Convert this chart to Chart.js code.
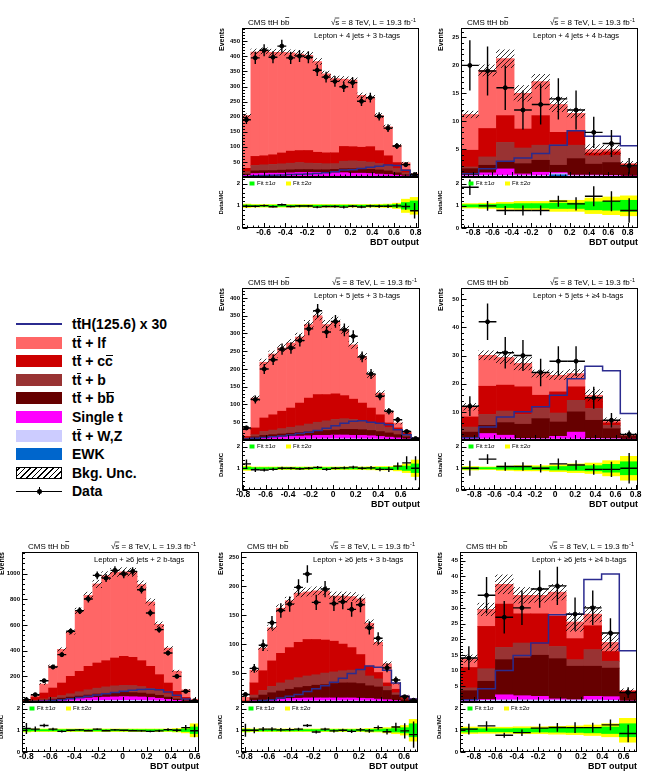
<!DOCTYPE html>
<html>
<head>
<meta charset="utf-8">
<title>ttH bb BDT output</title>
<script src="https://cdn.jsdelivr.net/npm/chart.js@4.4.1/dist/chart.umd.min.js"></script>
<style>
  body { margin: 0; width: 646px; height: 773px; position: relative; overflow: hidden; background: #fff;
         font-family: "Liberation Sans", Arial, sans-serif; }
  canvas { position: absolute; }
  .leg { position: absolute; left: 0; width: 220px; height: 18px; }
  .sw { position: absolute; left: 16px; top: 3px; width: 46px; height: 12px; }
  .lt { position: absolute; left: 72px; top: 0; font-weight: bold; font-size: 14px; line-height: 18px; color: #000; white-space: nowrap; }
  .ov { position: relative; }
  .ov::after { content: ''; position: absolute; left: 0.5px; right: 0; top: 1.5px; border-top: 1.5px solid #000; }
</style>
</head>
<body>
<div id="legend"></div>
<script>
// background components, bottom to top of the stack
const stackNames = ['EWK', 'tt\u0304 + W,Z', 'Single t', 'tt\u0304 + bb\u0304', 'tt\u0304 + b', 'tt\u0304 + cc\u0304', 'tt\u0304 + lf'];
const stackColors = ['#0066cc', '#ccccff', '#ff00ff', '#660000', '#993333', '#cc0000', '#ff6666'];
const sigColor = '#2b2b8f';

// ---- lepton + 4 jets + 3 b-tags
const range43 = [-0.799, 0.831];
const data43 = [190,395,420,397,434,395,401,397,354,331,317,299,313,251,263,201,162,103,41,8];
const err43 = [14,20,20,20,21,20,20,20,19,18,18,17,18,16,16,14,13,10,6,3];
const ewk43 = [0.2,0.4,0.4,0.5,0.5,0.5,0.5,0.5,0.5,0.5,0.6,0.6,0.6,0.6,0.6,0.5,0.5,0.4,0.2,0.1];
const ttv43 = [0.5,1,1,1.2,1.2,1.3,1.4,1.5,1.5,1.6,1.7,1.8,1.9,2,2,2,1.8,1.5,1,0.3];
const st43 = [5,10,11,11,11,12,13,13,13,12,12,12,10,10,9,7,6,4,2,0.1];
const bb43 = [4,9,9,9,10,10,10,10,9,10,11,13,15,14,14,14,12,8,4,0.5];
const b43 = [8,18,19,20,21,22,23,21,21,20,19,25,26,25,24,21,18,14,7,1];
const cc43 = [11,30,30,32,36,40,40,42,37,36,36,49,47,47,51,43,32,20,10,1];
const lf43 = [175,346,348,340,334,326,320,315,301,262,246,223,221,172,164,116,96,57,23,8];
const tth43 = [2,4,5,6,7,8,9,10,12,14,17,23,24,28,32,36,40,38,22,6];
const unc43 = [6,10,10,10,10,10,10,10,10,9,9,9,9,8,8,7,6,4,2,1];
const ratio43 = [0.98,0.98,1.01,0.96,1.05,0.97,0.99,0.99,0.94,0.97,0.97,0.94,0.98,0.95,0.99,0.98,0.98,1.0,0.97,0.78];
const rerr43 = [0.07,0.05,0.05,0.05,0.05,0.05,0.05,0.05,0.05,0.05,0.06,0.06,0.06,0.06,0.06,0.07,0.08,0.1,0.15,0.35];
const fit1_43 = [0.04,0.03,0.03,0.03,0.03,0.03,0.03,0.03,0.03,0.03,0.03,0.03,0.03,0.03,0.03,0.03,0.04,0.06,0.15,0.22];
const fit2_43 = [0.08,0.06,0.06,0.06,0.06,0.06,0.06,0.06,0.06,0.06,0.06,0.06,0.06,0.06,0.06,0.07,0.08,0.12,0.3,0.38];

// ---- lepton + 4 jets + 4 b-tags
const range44 = [-0.926, 0.908];
const data44 = [20,19,16,12,13,14,12,8,6,2];
const err44 = [4.5,4.4,4,3.5,3.6,3.7,3.5,2.8,2.4,1.4];
const ewk44 = [0.05,0.05,0.05,0.05,0.05,0.4,0.05,0.05,0.05,0.02];
const ttv44 = [0.15,0.2,0.2,0.2,0.2,0.2,0.2,0.2,0.15,0.1];
const st44 = [0.1,0.5,1.2,0.3,0.6,0.2,0.1,0.1,0.1,0.05];
const bb44 = [1.2,1.35,1.35,1.85,2.15,1.3,2.95,1.95,2.3,1.63];
const b44 = [0.3,1.5,3.4,2.8,2.7,3.7,2.4,1.5,1.3,0.3];
const cc44 = [3.0,5.1,4.8,3.4,5.3,2.2,2.5,0.5,0.6,0.1];
const lf44 = [6.4,10.4,10.2,6.4,6.1,5.0,3.2,0.6,0.4,0.2];
const tth44 = [0.6,1.5,2.8,3.4,4.2,5.7,8.3,7.3,7.3,5.6];
const unc44 = [0.6,1.0,1.6,1.4,1.3,1.3,0.8,0.9,0.8,0.4];
const ratio44 = [1.84,1.0,0.79,0.79,0.79,1.21,1.09,1.43,1.21,0.79];
const rerr44 = [0.35,0.22,0.2,0.23,0.22,0.25,0.3,0.45,0.45,0.55];
const fit1_44 = [0.05,0.06,0.08,0.1,0.1,0.12,0.12,0.18,0.2,0.25];
const fit2_44 = [0.1,0.12,0.16,0.2,0.2,0.25,0.25,0.35,0.4,0.45];

// ---- lepton + 5 jets + 3 b-tags
const range53 = [-0.809, 0.772];
const data53 = [34,114,200,226,256,259,280,313,364,304,334,310,292,234,186,123,81,57,24,4];
const err53 = [6,11,14,15,16,16,17,18,19,17,18,18,17,15,14,11,9,8,5,2];
const ewk53 = [0.1,0.3,0.4,0.4,0.5,0.5,0.5,0.5,0.5,0.5,0.5,0.5,0.5,0.5,0.5,0.4,0.4,0.3,0.2,0.05];
const ttv53 = [0.5,1,1.2,1.4,1.6,1.8,2,2.2,2.4,2.6,2.8,2.8,2.8,2.6,2.4,2.2,1.8,1.4,0.8,0.2];
const st53 = [1.4,3.7,5.4,6.2,6.9,7.7,8.5,9.3,10.1,9.9,10.7,10.7,9.7,9.9,9.1,7.4,5.8,4.3,2,0.8];
const bb53 = [2,4,6,7,8,9,10,11,12,14,14,16,17,16,15,14,12,9,6,1];
const b53 = [2,6,11,13,15,17,19,22,25,27,30,30,28,26,23,20,15,11,6,2];
const cc53 = [4,19,38,43,49,54,64,73,78,74,72,65,57,49,40,27,13,8,5,1];
const lf53 = [24,84,157,171,178,183,186,207,222,197,204,186,153,131,94,61,33,14,4,1];
const tth53 = [3,5,7,9,11,14,18,22,27,33,40,47,53,54,50,47,43,29,15,5];
const unc53 = [3,6,9,9,10,10,11,12,12,12,12,11,10,9,8,7,5,3,2,1];
const ratio53 = [1.2,0.93,0.92,0.95,1.0,1.0,0.98,1.0,1.04,0.95,1.0,1.02,1.05,1.0,1.02,0.95,0.95,1.1,1.25,1.0];
const rerr53 = [0.2,0.1,0.07,0.07,0.07,0.06,0.06,0.06,0.06,0.06,0.06,0.06,0.07,0.07,0.08,0.09,0.12,0.17,0.3,0.55];
const fit1_53 = [0.05,0.03,0.03,0.03,0.03,0.03,0.03,0.03,0.03,0.03,0.03,0.03,0.03,0.03,0.03,0.04,0.04,0.06,0.1,0.2];
const fit2_53 = [0.1,0.06,0.06,0.06,0.06,0.06,0.06,0.06,0.06,0.06,0.06,0.06,0.06,0.06,0.07,0.08,0.08,0.12,0.2,0.38];

// ---- lepton + 5 jets + >=4 b-tags
const range54 = [-0.932, 0.823];
const data54 = [12,42,31,30,24,28,28,15,7,2];
const err54 = [3.5,6.5,5.6,5.5,4.9,5.3,5.3,3.9,2.6,1.4];
const ewk54 = [0.05,0.05,0.05,0.05,0.05,0.05,0.05,0.05,0.05,0.05];
const ttv54 = [0.3,0.3,0.3,0.3,0.3,0.3,0.3,0.3,0.3,0.15];
const st54 = [0.25,1.95,1.35,0.25,0.15,0.95,2.45,0.25,0.15,0.1];
const bb54 = [2.2,2.9,4.5,5.0,7.1,5.1,7.2,6.4,3.5,1.0];
const b54 = [1.8,3.9,4.1,3.5,3.6,3.2,4.1,4.2,1.2,0.4];
const cc54 = [3.6,10.0,9.2,9.8,4.7,7.5,4.8,3.5,0.9,0.1];
const lf54 = [3.6,11.0,9.8,8.3,7.7,5.9,4.7,1.2,0.9,0.2];
const tth54 = [0.8,4.6,8.2,10.0,11.8,15.9,21.8,26.2,24.6,9.4];
const unc54 = [1.2,1.6,2.2,2.3,1.3,1.5,1.5,2.0,0.9,0.4];
const ratio54 = [1.0,1.42,1.08,1.08,1.0,1.2,1.15,0.95,0.95,1.0];
const rerr54 = [0.35,0.22,0.2,0.2,0.2,0.25,0.22,0.25,0.35,0.7];
const fit1_54 = [0.04,0.03,0.05,0.06,0.06,0.08,0.1,0.12,0.18,0.3];
const fit2_54 = [0.08,0.06,0.1,0.12,0.12,0.16,0.2,0.24,0.35,0.55];

// ---- lepton + >=6 jets + 2 b-tags
const range62 = [-0.836, 0.636];
const data62 = [18,57,166,273,369,551,712,803,987,966,1026,997,1018,875,694,564,382,200,83,10];
const err62 = [4,8,13,17,19,23,27,28,31,31,32,32,32,30,26,24,20,14,9,3];
const ewk62 = [0.1,0.4,0.8,1.2,1.6,2,2.3,2.6,2.8,3,3,3,3,2.8,2.5,2,1.5,1,0.5,0.1];
const ttv62 = [0.3,1,2,3,4,5,6,7,8,8.5,9,9.5,9.5,9,8,7,5,3,1.5,0.4];
const st62 = [1.6,3.6,7.2,9.8,12.4,15,18.7,21.4,24.2,26.5,28,29.5,28.5,27.2,24.5,20,14.5,9,4,1];
const bb62 = [1,3,5,8,12,16,19,23,27,30,32,33,33,31,27,23,17,10,4,0.5];
const b62 = [1,4,9,14,20,26,34,41,46,50,54,55,54,50,44,36,26,15,6,2];
const cc62 = [6,24,46,73,98,136,159,183,196,204,217,226,220,202,172,125,84,45,20,6];
const lf62 = [10,14,70,171,262,345,471,552,616,663,667,659,662,593,502,392,272,157,59,12];
const tth62 = [1,3,6,11,17,25,35,45,55,65,75,84,92,98,100,95,78,52,24,5];
const unc62 = [1,2,5,9,13,17,22,26,29,31,32,32,32,29,25,19,14,8,3,1];
const ratio62 = [1.08,1.05,1.22,1.05,0.95,1.0,1.02,0.98,1.05,0.98,1.02,1.0,0.98,0.97,0.95,0.97,1.03,1.0,1.12,0.98];
const rerr62 = [0.25,0.12,0.08,0.06,0.05,0.04,0.04,0.04,0.04,0.04,0.04,0.04,0.04,0.04,0.04,0.05,0.06,0.08,0.12,0.3];
const fit1_62 = [0.04,0.03,0.03,0.03,0.03,0.03,0.03,0.03,0.03,0.03,0.03,0.03,0.03,0.03,0.03,0.03,0.03,0.04,0.06,0.15];
const fit2_62 = [0.08,0.06,0.06,0.06,0.06,0.06,0.06,0.06,0.06,0.06,0.06,0.06,0.06,0.06,0.06,0.06,0.06,0.08,0.12,0.3];

// ---- lepton + >=6 jets + 3 b-tags
const range63 = [-0.838, 0.723];
const data63 = [13,58,98,137,158,169,198,221,172,195,170,173,160,168,128,110,59,38,9,3];
const err63 = [3.6,7.6,9.9,11.7,12.6,13,14,15,13,14,13,13,12.6,13,11.3,10.5,7.7,6.2,3,1.7];
const ewk63 = [0.05,0.1,0.15,0.2,0.2,0.2,0.2,0.2,0.2,0.2,0.2,0.2,0.2,0.2,0.2,0.2,0.1,0.1,0.05,0.02];
const ttv63 = [0.1,0.5,0.8,1,1.2,1.4,1.5,1.6,1.7,1.8,1.8,1.8,1.8,1.7,1.6,1.4,1.1,0.7,0.3,0.1];
const st63 = [0.15,1.4,2.05,2.8,3.6,4.4,4.8,5.2,5.1,5.0,5.0,5.0,5.0,4.6,4.2,3.4,2.8,1.7,0.65,0.18];
const bb63 = [0.2,5,9,12,14,16,18.5,20,22,23,25,26,26,25.5,22,21,16,9.5,3,1.2];
const b63 = [0.5,5,8,11,14,16,17,18,18,20,20,21,22,23,17,14,7,4,1,0.5];
const cc63 = [1,21,34,44,51,56,61,63,61,57,53,46,39,27,17,11,6,6,2,2];
const lf63 = [6,22,39,57,78,81,85,82,84,85,78,83,88,96,74,52,33,11,4,2];
const tth63 = [0.5,1,2.5,4,7,10,13,18,23,28,34,41,49,56,62,60,55,33,10,5];
const unc63 = [0.5,3,4,5,6,6,6.5,7,7,7,7,7,7,7,6,5,3.5,2,0.8,0.4];
const ratio63 = [1.0,1.0,1.05,1.05,1.02,1.03,1.05,1.22,0.92,1.05,0.97,1.0,0.95,1.02,0.97,1.12,0.93,1.15,0.97,0.8];
const rerr63 = [0.3,0.14,0.1,0.09,0.08,0.08,0.07,0.07,0.07,0.07,0.07,0.07,0.08,0.08,0.09,0.1,0.13,0.2,0.35,0.6];
const fit1_63 = [0.04,0.03,0.03,0.03,0.03,0.03,0.03,0.03,0.03,0.03,0.03,0.03,0.03,0.03,0.04,0.04,0.06,0.08,0.12,0.3];
const fit2_63 = [0.08,0.06,0.06,0.06,0.06,0.06,0.06,0.06,0.06,0.06,0.06,0.06,0.06,0.06,0.08,0.08,0.12,0.16,0.22,0.5];

// ---- lepton + >=6 jets + >=4 b-tags
const range64 = [-0.931, 0.725];
const data64 = [14,34,27,30,36,37,28,30,22,3];
const err64 = [3.8,5.8,5.2,5.5,6,6.1,5.3,5.5,4.7,1.7];
const ewk64 = [0.05,0.05,0.05,0.05,0.05,0.05,0.05,0.05,0.05,0.05];
const ttv64 = [0.3,0.5,0.6,0.6,0.6,0.6,0.6,0.6,0.5,0.2];
const st64 = [0.15,0.25,1.65,1.35,1.15,0.35,0.05,1.15,1.15,0.05];
const bb64 = [3.1,5.8,11.2,12.0,13.1,12.8,10.7,9.6,9.1,2.6];
const b64 = [0.9,4.0,3.9,4.8,3.4,3.9,2.1,5.3,2.2,0.3];
const cc64 = [6.5,13.5,13.8,9.3,9.8,9.6,6.7,7.6,3.1,0.2];
const lf64 = [2.8,5.4,6.3,5.9,5.9,7.7,5.3,3.7,2.9,0.3];
const tth64 = [0.7,4.2,10.0,14.8,18.8,27.8,28.0,39.0,40.8,16.3];
const unc64 = [1.2,2.0,3.0,2.5,2.2,2.5,3.0,2.5,2.8,0.5];
const ratio64 = [1.05,1.2,0.77,0.89,1.1,1.13,1.12,1.12,1.25,0.85];
const rerr64 = [0.25,0.22,0.12,0.15,0.2,0.2,0.25,0.22,0.25,0.4];
const fit1_64 = [0.08,0.07,0.07,0.08,0.08,0.09,0.1,0.12,0.15,0.3];
const fit2_64 = [0.15,0.14,0.14,0.16,0.16,0.18,0.2,0.24,0.3,0.55];

// ratio axis labels
const ratioTicks = [0, 1, 2];

Chart.defaults.font.family = '"Liberation Sans", Arial, sans-serif';
Chart.defaults.color = '#000';

const FONT = '"Liberation Sans", Arial, sans-serif';

// diagonal hatching for the background uncertainty
function hatch(ctx) {
  const c = document.createElement('canvas');
  c.width = 5; c.height = 5;
  const g = c.getContext('2d');
  g.strokeStyle = '#000';
  g.lineWidth = 0.8;
  g.beginPath();
  g.moveTo(0, 5); g.lineTo(5, 0);
  g.moveTo(-1, 1); g.lineTo(1, -1);
  g.moveTo(4, 6); g.lineTo(6, 4);
  g.stroke();
  return ctx.createPattern(c, 'repeat');
}

// frame, inward ticks, error bars and the texts round each panel
const deco = {
  id: 'deco',
  afterDatasetsDraw(chart, args, opts) {
    const ctx = chart.ctx, ca = chart.chartArea;
    const x = chart.scales.x, y = chart.scales.y, r = chart.scales.r;
    ctx.save();

    // error bars of data points
    chart.data.datasets.forEach(ds => {
      if (!ds.errY) return;
      const ys = chart.scales[ds.yAxisID];
      ctx.save();
      ctx.beginPath();
      ctx.rect(ca.left, ys.top, ca.right - ca.left, ys.bottom - ys.top);
      ctx.clip();
      ctx.strokeStyle = '#000';
      ctx.lineWidth = 1.4;
      ds.data.forEach((pt, i) => {
        const px = x.getPixelForValue(pt.x), py = ys.getPixelForValue(pt.y);
        ctx.beginPath();
        ctx.moveTo(x.getPixelForValue(pt.x - ds.halfW), py);
        ctx.lineTo(x.getPixelForValue(pt.x + ds.halfW), py);
        ctx.moveTo(px, ys.getPixelForValue(pt.y - ds.errY[i]));
        ctx.lineTo(px, ys.getPixelForValue(pt.y + ds.errY[i]));
        ctx.stroke();
      });
      ctx.restore();
    });

    // frames
    ctx.strokeStyle = '#000';
    ctx.lineWidth = 1;
    const L = Math.round(ca.left) + 0.5, R = Math.round(ca.right) - 0.5;
    [y, r].forEach(s => ctx.strokeRect(L, Math.round(s.top) + 0.5, R - L, Math.round(s.bottom) - Math.round(s.top) - 1));

    // inward ticks, five minor divisions on y, four on x
    ctx.beginPath();
    [y, r].forEach(s => {
      const vals = s.ticks.map(t => t.value);
      const step = vals[1] - vals[0];
      for (let k = 0; vals[0] + k * step / 5 <= s.max + 1e-9; k++) {
        const py = Math.round(s.getPixelForValue(vals[0] + k * step / 5)) + 0.5;
        ctx.moveTo(L, py);
        ctx.lineTo(L + (k % 5 === 0 ? 5 : 2.5), py);
      }
    });
    const x0v = x.ticks[0].value;
    for (let k = -4; x0v + k * 0.05 <= x.max + 1e-9; k++) {
      const v = x0v + k * 0.05;
      if (v < x.min) continue;
      const px = Math.round(x.getPixelForValue(v)) + 0.5;
      const len = (k % 4 === 0) ? 5 : 2.5;
      [y.bottom, r.bottom].forEach(b => {
        ctx.moveTo(px, b);
        ctx.lineTo(px, b - len);
      });
    }
    ctx.stroke();

    // header texts
    ctx.fillStyle = '#000';
    ctx.textBaseline = 'middle';
    ctx.textAlign = 'left';
    ctx.font = '8px ' + FONT;
    const cms = 'CMS ttH bb';
    ctx.fillText(cms, ca.left + 6, ca.top - 5);
    const wc = ctx.measureText(cms).width, wb = ctx.measureText('b').width;
    ctx.beginPath();
    ctx.lineWidth = 0.7;
    ctx.moveTo(ca.left + 6 + wc - wb + 0.4, ca.top - 10.5);
    ctx.lineTo(ca.left + 6 + wc - 0.2, ca.top - 10.5);
    ctx.stroke();

    ctx.font = '5.5px ' + FONT;
    const wsup = ctx.measureText('-1').width;
    ctx.textAlign = 'right';
    ctx.fillText('-1', ca.right - 3, ca.top - 8);
    ctx.font = '8px ' + FONT;
    const lumi = '\u221as = 8 TeV, L = 19.3 fb';
    const lx = ca.right - 3 - wsup - 0.5;
    ctx.fillText(lumi, lx, ca.top - 5);
    const sx = lx - ctx.measureText(lumi).width + ctx.measureText('\u221a').width - 0.5;
    ctx.beginPath();
    ctx.moveTo(sx, ca.top - 10);
    ctx.lineTo(sx + ctx.measureText('s').width + 0.5, ca.top - 10);
    ctx.stroke();

    ctx.textAlign = 'left';
    ctx.font = '7.6px ' + FONT;
    ctx.fillText(opts.cat, ca.left + 72, ca.top + 7.5);

    // ratio legend
    const ly = r.top + 6.5;
    ctx.font = '6px ' + FONT;
    ctx.fillStyle = '#00ff00';
    ctx.fillRect(ca.left + 7.5, ly - 2, 5, 4);
    ctx.fillStyle = '#000';
    ctx.fillText('Fit \u00b11\u03c3', ca.left + 15, ly);
    ctx.fillStyle = '#ffff00';
    ctx.fillRect(ca.left + 44, ly - 2, 5, 4);
    ctx.fillStyle = '#000';
    ctx.fillText('Fit \u00b12\u03c3', ca.left + 51, ly);
    ctx.restore();
  }
};

function drawPanel(p) {
  const padL = 24, padT = 16, padR = 10, padB = 19;
  const cv = document.createElement('canvas');
  cv.width = p.r - p.l + padL + padR;
  cv.height = p.b - p.t + padT + padB;
  cv.style.left = (p.l - padL) + 'px';
  cv.style.top = (p.t - padT) + 'px';
  document.body.appendChild(cv);
  const ctx = cv.getContext('2d');

  const n = p.data.length;
  const bw = (p.range[1] - p.range[0]) / n;
  const xc = p.data.map((_, i) => p.range[0] + (i + 0.5) * bw);
  const edges = xc.map(v => v - bw / 2).concat([p.range[1]]);
  const total = xc.map((_, i) => p.stack.reduce((s, a) => s + a[i], 0));

  const datasets = [
    { type: 'scatter', label: 'Data', data: xc.map((v, i) => ({x: v, y: p.data[i]})), yAxisID: 'y',
      errY: p.err, halfW: bw / 2, pointRadius: 2, backgroundColor: '#000', borderColor: '#000', order: 0 },
    { type: 'line', label: 'ttH(125.6) x 30', data: edges.map((v, i) => ({x: v, y: p.tth[Math.min(i, n - 1)]})),
      stepped: true, borderColor: sigColor, borderWidth: 1.5, pointRadius: 0, fill: false, yAxisID: 'y', order: 1 },
    { type: 'bar', label: 'Bkg. Unc.', data: xc.map((v, i) => ({x: v, y: [total[i] - p.unc[i], total[i] + p.unc[i]]})),
      backgroundColor: hatch(ctx), stack: 'unc', grouped: false, yAxisID: 'y', order: 2 },
    { type: 'scatter', label: 'Data/MC', data: xc.map((v, i) => ({x: v, y: p.ratio[i]})), yAxisID: 'r',
      errY: p.rerr, halfW: bw / 2, pointRadius: 1.6, backgroundColor: '#000', borderColor: '#000', order: 0 },
    { type: 'bar', label: 'Fit \u00b11\u03c3', data: xc.map((v, i) => ({x: v, y: [1 - p.fit1[i], 1 + p.fit1[i]]})),
      backgroundColor: '#00ff00', grouped: false, yAxisID: 'r', order: 5 },
    { type: 'bar', label: 'Fit \u00b12\u03c3', data: xc.map((v, i) => ({x: v, y: [1 - p.fit2[i], 1 + p.fit2[i]]})),
      backgroundColor: '#ffff00', grouped: false, yAxisID: 'r', order: 6 }
  ];
  p.stack.forEach((arr, k) => datasets.push({
    type: 'bar', label: stackNames[k], data: xc.map((v, i) => ({x: v, y: arr[i]})),
    backgroundColor: stackColors[k], stack: 'bkg', yAxisID: 'y', order: 10 + k
  }));

  const yTicks = { padding: 2, autoSkip: false, font: { size: 6, weight: 'bold' }, color: '#000' };

  new Chart(cv, {
    type: 'bar',
    data: { datasets: datasets },
    plugins: [deco],
    options: {
      responsive: false,
      animation: false,
      events: [],
      layout: { padding: { left: 0, top: padT, right: padR, bottom: 0 } },
      datasets: { bar: { barPercentage: 1, categoryPercentage: 1, borderWidth: 0 } },
      plugins: { legend: { display: false }, tooltip: { enabled: false }, deco: { cat: p.cat } },
      scales: {
        x: {
          type: 'linear', min: p.range[0], max: p.range[1], offset: false, stacked: true,
          grid: { display: false, drawTicks: false }, border: { display: false },
          ticks: { autoSkip: false, maxRotation: 0, padding: 0,
                   font: { size: 8.5, weight: 'bold' }, color: '#000',
                   callback: v => Math.abs(v) < 1e-9 ? '0' : v.toFixed(1) },
          afterBuildTicks: s => {
            const t = [];
            for (let k = Math.ceil(s.min / 0.2 - 1e-6); k <= Math.floor(s.max / 0.2 + 1e-6); k++) t.push({ value: Math.round(k * 2) / 10 });
            s.ticks = t;
          },
          title: { display: true, text: 'BDT output', align: 'end', padding: 0, color: '#000',
                   font: { size: 9, weight: 'bold', lineHeight: 1 } },
          afterFit: s => { s.height = padB; }
        },
        y: {
          type: 'linear', axis: 'y', position: 'left', stack: 'panel', stackWeight: p.s - p.t, weight: 2,
          stacked: true, min: 0, max: p.ymax,
          grid: { display: false, drawTicks: false }, border: { display: false },
          ticks: Object.assign({ callback: v => v === 0 ? '' : v }, yTicks),
          afterBuildTicks: s => {
            const t = [];
            for (let k = 0; k * p.ystep <= p.ymax; k++) t.push({ value: k * p.ystep });
            s.ticks = t;
          },
          title: { display: true, text: 'Events', align: 'end', padding: 0, color: '#000',
                   font: { size: 7, weight: 'bold', lineHeight: 1.2 } },
          afterFit: s => { s.width = padL; }
        },
        r: {
          type: 'linear', axis: 'y', position: 'left', stack: 'panel', stackWeight: p.b - p.s, weight: 1,
          stacked: false, min: 0, max: 2.3,
          grid: { display: false, drawTicks: false }, border: { display: false },
          ticks: Object.assign({}, yTicks),
          afterBuildTicks: s => { s.ticks = ratioTicks.map(v => ({ value: v })); },
          title: { display: true, text: 'Data/MC', align: 'center', padding: 0, color: '#000',
                   font: { size: 6, weight: 'bold', lineHeight: 1.2 } },
          afterFit: s => { s.width = padL; }
        }
      }
    }
  });
}

drawPanel({ l: 242, t: 28, r: 419, s: 177, b: 228, range: range43, ymax: 494, ystep: 50,
  cat: 'Lepton + 4 jets + 3 b-tags', data: data43, err: err43,
  stack: [ewk43, ttv43, st43, bb43, b43, cc43, lf43], tth: tth43, unc: unc43,
  ratio: ratio43, rerr: rerr43, fit1: fit1_43, fit2: fit2_43 });
drawPanel({ l: 461, t: 28, r: 638, s: 177, b: 228, range: range44, ymax: 26.7, ystep: 5,
  cat: 'Lepton + 4 jets + 4 b-tags', data: data44, err: err44,
  stack: [ewk44, ttv44, st44, bb44, b44, cc44, lf44], tth: tth44, unc: unc44,
  ratio: ratio44, rerr: rerr44, fit1: fit1_44, fit2: fit2_44 });
drawPanel({ l: 242, t: 288, r: 420, s: 440, b: 490, range: range53, ymax: 428, ystep: 50,
  cat: 'Lepton + 5 jets + 3 b-tags', data: data53, err: err53,
  stack: [ewk53, ttv53, st53, bb53, b53, cc53, lf53], tth: tth53, unc: unc53,
  ratio: ratio53, rerr: rerr53, fit1: fit1_53, fit2: fit2_53 });
drawPanel({ l: 461, t: 288, r: 638, s: 440, b: 490, range: range54, ymax: 54, ystep: 10,
  cat: 'Lepton + 5 jets + \u22654 b-tags', data: data54, err: err54,
  stack: [ewk54, ttv54, st54, bb54, b54, cc54, lf54], tth: tth54, unc: unc54,
  ratio: ratio54, rerr: rerr54, fit1: fit1_54, fit2: fit2_54 });
drawPanel({ l: 22, t: 552, r: 199, s: 702, b: 752, range: range62, ymax: 1169, ystep: 200,
  cat: 'Lepton + \u22656 jets + 2 b-tags', data: data62, err: err62,
  stack: [ewk62, ttv62, st62, bb62, b62, cc62, lf62], tth: tth62, unc: unc62,
  ratio: ratio62, rerr: rerr62, fit1: fit1_62, fit2: fit2_62 });
drawPanel({ l: 241, t: 552, r: 418, s: 702, b: 752, range: range63, ymax: 259, ystep: 50,
  cat: 'Lepton + \u22656 jets + 3 b-tags', data: data63, err: err63,
  stack: [ewk63, ttv63, st63, bb63, b63, cc63, lf63], tth: tth63, unc: unc63,
  ratio: ratio63, rerr: rerr63, fit1: fit1_63, fit2: fit2_63 });
drawPanel({ l: 460, t: 552, r: 637, s: 702, b: 752, range: range64, ymax: 47.8, ystep: 5,
  cat: 'Lepton + \u22656 jets + \u22654 b-tags', data: data64, err: err64,
  stack: [ewk64, ttv64, st64, bb64, b64, cc64, lf64], tth: tth64, unc: unc64,
  ratio: ratio64, rerr: rerr64, fit1: fit1_64, fit2: fit2_64 });

// legend on the left
const legendItems = [
  { html: 't<span class="ov">t</span>H(125.6) x 30', kind: 'line', color: sigColor },
  { html: 't<span class="ov">t</span> + lf', kind: 'box', color: stackColors[6] },
  { html: 't<span class="ov">t</span> + c<span class="ov">c</span>', kind: 'box', color: stackColors[5] },
  { html: 't<span class="ov">t</span> + b', kind: 'box', color: stackColors[4] },
  { html: 't<span class="ov">t</span> + b<span class="ov">b</span>', kind: 'box', color: stackColors[3] },
  { html: 'Single t', kind: 'box', color: stackColors[2] },
  { html: 't<span class="ov">t</span> + W,Z', kind: 'box', color: stackColors[1] },
  { html: 'EWK', kind: 'box', color: stackColors[0] },
  { html: 'Bkg. Unc.', kind: 'hatch' },
  { html: 'Data', kind: 'data' }
];
const legend = document.getElementById('legend');
legendItems.forEach((it, i) => {
  const row = document.createElement('div');
  row.className = 'leg';
  row.style.top = (315 + i * 18.6) + 'px';
  let sw;
  if (it.kind === 'box') {
    sw = '<div class="sw" style="background:' + it.color + '"></div>';
  } else if (it.kind === 'hatch') {
    sw = '<div class="sw" style="box-sizing:border-box;border:1px solid #000;background:repeating-linear-gradient(-45deg,#000 0 1px,#fff 1px 4px)"></div>';
  } else if (it.kind === 'line') {
    sw = '<div style="position:absolute;left:16px;top:8px;width:46px;height:1.5px;background:' + it.color + '"></div>';
  } else {
    sw = '<div style="position:absolute;left:16px;top:8.5px;width:46px;height:1px;background:#000"></div>' +
         '<div style="position:absolute;left:38.5px;top:5px;width:1px;height:8px;background:#000"></div>' +
         '<div style="position:absolute;left:36.5px;top:6.5px;width:5px;height:5px;border-radius:50%;background:#000"></div>';
  }
  row.innerHTML = sw + '<div class="lt">' + it.html + '</div>';
  legend.appendChild(row);
});
</script>
</body>
</html>
